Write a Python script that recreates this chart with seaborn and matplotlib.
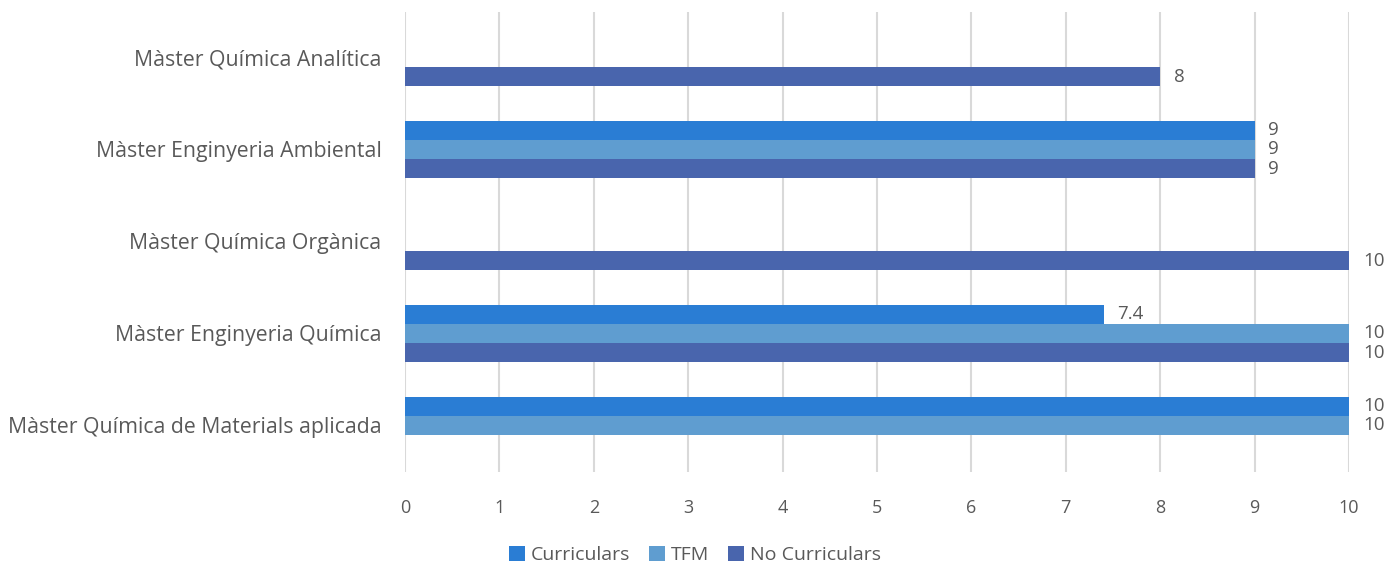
import matplotlib
matplotlib.use("Agg")
import matplotlib.pyplot as plt
import seaborn as sns
import pandas as pd
import numpy as np

categories = ["Màster Química Analítica", "Màster Enginyeria Ambiental",
              "Màster Química Orgànica", "Màster Enginyeria Química",
              "Màster Química de Materials aplicada"]
series = ["Curriculars", "TFM", "No Curriculars"]
curriculars = [np.nan, 9, np.nan, 7.4, 10]
tfm = [np.nan, 9, np.nan, 10, 10]
no_curriculars = [8, 9, 10, 10, np.nan]
colors = ["#2A7DD4", "#5F9DD0", "#4965AD"]
xticks = list(range(0, 11))

rows = []
for s, vals in zip(series, [curriculars, tfm, no_curriculars]):
    for c, v in zip(categories, vals):
        rows.append({"cat": c, "series": s, "val": v})
df = pd.DataFrame(rows).dropna()

sns.set_theme(style="white")
plt.rcParams['font.family'] = ['Open Sans', 'DejaVu Sans']
text_color = "#595959"

fig = plt.figure(figsize=(13.84, 5.64), dpi=100)
ax = fig.add_axes([405/1384, 1-471.5/564, (1349-405)/1384, 460/564])

sns.barplot(data=df, y="cat", x="val", hue="series", order=categories,
            hue_order=series, palette=colors, width=0.62, orient="h",
            errorbar=None, ax=ax, saturation=1, legend=True, linewidth=0)

ax.set_xlim(0, 10)
ax.set_xticks(xticks)
ax.set_xticklabels([str(t) for t in xticks])
ax.grid(axis="x", color="#D9D9D9", linewidth=1.5)
ax.set_axisbelow(True)
for sp in ax.spines.values():
    sp.set_visible(False)
ax.tick_params(axis="x", length=0, pad=20, labelsize=13, labelcolor=text_color)
ax.tick_params(axis="y", length=0, pad=17, labelsize=15.3, labelcolor=text_color)
ax.set_xlabel("")
ax.set_ylabel("")

for cont in ax.containers:
    labels = []
    for v in cont.datavalues:
        if np.isnan(v):
            labels.append("")
        else:
            labels.append(f"{v:g}")
    ax.bar_label(cont, labels=labels, padding=10, fontsize=13.5, color=text_color)

leg = ax.legend(loc="center", bbox_to_anchor=(0.307, -0.181), ncol=3,
                frameon=False, fontsize=14, handlelength=0.8, handleheight=0.8,
                handletextpad=0.3, columnspacing=1.0, borderaxespad=0)
for t in leg.get_texts():
    t.set_color(text_color)

fig.savefig("out.png", dpi=100)
